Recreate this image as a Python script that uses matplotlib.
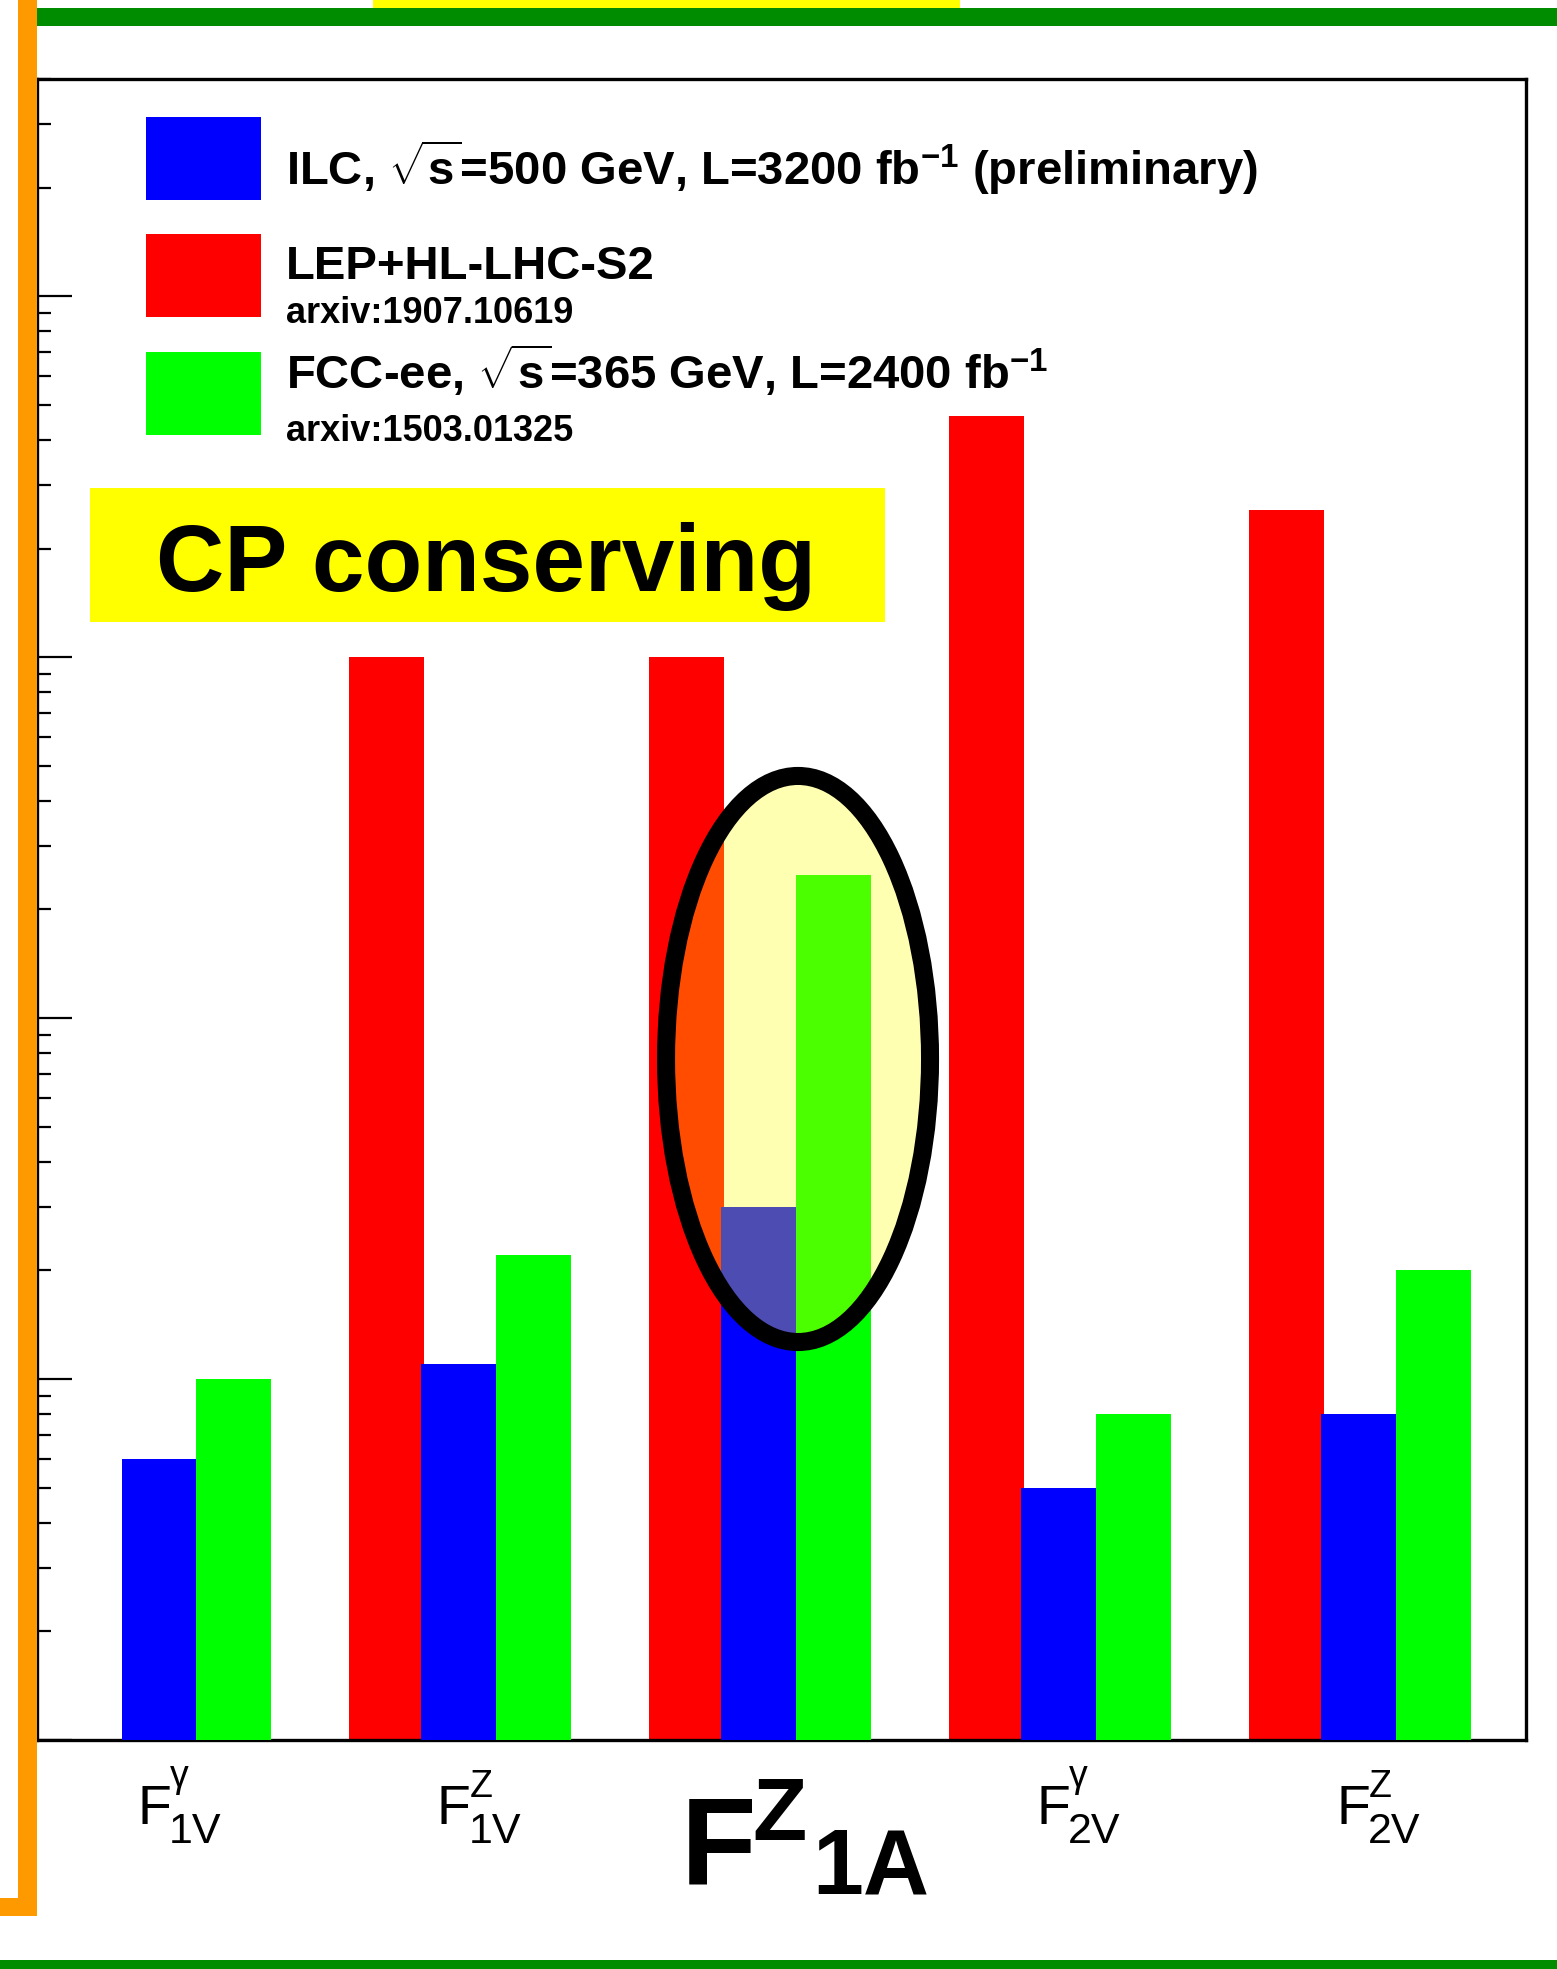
import numpy as np
import matplotlib
matplotlib.use("Agg")
import matplotlib.pyplot as plt
from matplotlib.patches import Rectangle, Ellipse
from matplotlib.transforms import Affine2D
from matplotlib.ticker import LogLocator, NullFormatter

# coupling bins on the x axis
couplings = ["F1V_gamma", "F1V_Z", "F1A_Z", "F2V_gamma", "F2V_Z"]
label_sup = ["γ", "Z", "Z", "γ", "Z"]
label_sub = ["1V", "1V", "1A", "2V", "2V"]

# expected precision per coupling (log scale, labels cut off on the slide)
ilc = [6.0e-4, 1.1e-3, 3.0e-3, 5.0e-4, 8.0e-4]
lep_hllhc = [np.nan, 0.10, 0.10, 0.465, 0.255]
fcc_ee = [1.0e-3, 2.2e-3, 2.5e-2, 8.0e-4, 2.0e-3]

legend_main = [r"ILC, $\sqrt{\mathbf{s}}$=500 GeV, L=3200 fb$^{\mathbf{-1}}$ (preliminary)",
               "LEP+HL-LHC-S2",
               r"FCC-ee, $\sqrt{\mathbf{s}}$=365 GeV, L=2400 fb$^{\mathbf{-1}}$"]
legend_ref = ["", "arxiv:1907.10619", "arxiv:1503.01325"]
legend_colors = ["#0000FF", "#FF0000", "#00FF00"]

plt.rcParams["font.family"] = ["Liberation Sans", "DejaVu Sans"]
plt.rcParams["mathtext.fontset"] = "custom"
plt.rcParams["mathtext.rm"] = "Liberation Sans"
plt.rcParams["mathtext.bf"] = "Liberation Sans:bold"
plt.rcParams["mathtext.it"] = "Liberation Sans:italic"

W, H = 1557, 1969
fig = plt.figure(figsize=(W / 100, H / 100), dpi=100)
# pixel coords, origin top-left
px = Affine2D().scale(1 / W, -1 / H).translate(0, 1) + fig.transFigure

# plot frame
x0, x1, y0, y1 = 37, 1526, 79, 1740
ax = fig.add_axes([x0 / W, 1 - y1 / H, (x1 - x0) / W, (y1 - y0) / H])

x = np.arange(len(couplings))
w = 0.25
red = np.array(lep_hllhc)
ok = ~np.isnan(red)
ax.bar(x[ok] - 0.24, red[ok], w, color="#FF0000", zorder=2)
ax.bar(x, ilc, w, color="#0000FF", zorder=3)
ax.bar(x + 0.25, fcc_ee, w, color="#00FF00", zorder=4)

ax.set_yscale("log")
ax.set_ylim(1e-4, 4.0)
ax.set_xlim(-0.407, 4.56)
ax.set_xticks([])
ax.yaxis.set_major_locator(LogLocator(base=10))
ax.yaxis.set_minor_locator(LogLocator(base=10, subs=np.arange(2, 10)))
ax.yaxis.set_minor_formatter(NullFormatter())
ax.tick_params(axis="y", which="major", direction="in", length=25, width=1.6,
               labelleft=False)
ax.tick_params(axis="y", which="minor", direction="in", length=10, width=1.6)
for s in ax.spines.values():
    s.set_linewidth(2.4)

# highlight ellipse around F1A
ax.add_patch(Ellipse((0.5111, 0.41), 0.1773, 0.3408, transform=ax.transAxes,
                     facecolor="#FFFF00", alpha=0.3, edgecolor="none", zorder=5))
ax.add_patch(Ellipse((0.5111, 0.41), 0.1773, 0.3408, transform=ax.transAxes,
                     fill=False, edgecolor="black", lw=13, zorder=6))

# legend
for i in range(3):
    top = [117, 234, 352][i]
    ax.add_patch(Rectangle((146, top), 115, 83, transform=px,
                           facecolor=legend_colors[i], edgecolor="none", zorder=7))
    fig.text(286, [185, 279, 389][i], legend_main[i], transform=px,
             fontsize=34, fontweight="bold", va="baseline", ha="left", zorder=8)
    if legend_ref[i]:
        fig.text(286, [323, 441][i - 1], legend_ref[i], transform=px,
                 fontsize=26, fontweight="bold", va="baseline", ha="left", zorder=8)

# CP conserving box
ax.add_patch(Rectangle((90, 488), 795, 134, transform=px,
                       facecolor="#FFFF00", edgecolor="none", zorder=7))
fig.text(486, 591, "CP conserving", transform=px, fontsize=68,
         fontweight="bold", ha="center", va="baseline", zorder=8)

# x labels
for i in range(len(couplings)):
    cx = ax.transData.transform((i, 1e-3))[0]
    if i == 2:
        fx = cx - 78
        fig.text(fx, 1884, "F", transform=px, fontsize=89, fontweight="bold",
                 va="baseline", ha="left")
        fig.text(fx + 72, 1840, label_sup[i], transform=px, fontsize=64,
                 fontweight="bold", va="baseline", ha="left")
        fig.text(fx + 132, 1894, label_sub[i], transform=px, fontsize=66,
                 fontweight="bold", va="baseline", ha="left")
    else:
        fx = cx - 22
        fig.text(fx, 1824, "F", transform=px, fontsize=40, va="baseline", ha="left")
        sup_y = 1787 if label_sup[i] == "γ" else 1797
        fig.text(fx + 33, sup_y, label_sup[i], transform=px, fontsize=27,
                 va="baseline", ha="left")
        fig.text(fx + 32, 1843, label_sub[i], transform=px, fontsize=31,
                 va="baseline", ha="left")

# slide decorations
fig.add_artist(Rectangle((18, 8), W - 18, 18, transform=px,
                         facecolor="#008C00", edgecolor="none", zorder=9))
fig.add_artist(Rectangle((373, 0), 587, 8, transform=px,
                         facecolor="#FFFF00", edgecolor="none", zorder=9))
fig.add_artist(Rectangle((18, 0), 19, 1916, transform=px,
                         facecolor="#FF9900", edgecolor="none", zorder=10))
fig.add_artist(Rectangle((0, 1898), 37, 18, transform=px,
                         facecolor="#FF9900", edgecolor="none", zorder=10))
fig.add_artist(Rectangle((0, 1960), W, 9, transform=px,
                         facecolor="#008C00", edgecolor="none", zorder=9))

fig.savefig("out.png", dpi=100)
